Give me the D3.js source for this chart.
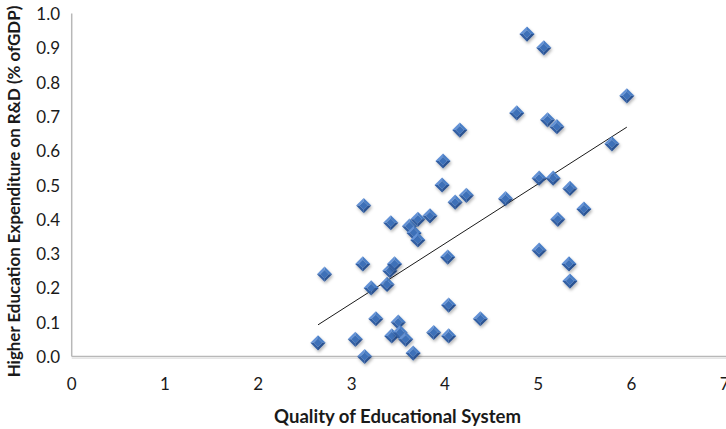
<!DOCTYPE html>
<html>
<head>
<meta charset="utf-8">
<script src="https://cdn.jsdelivr.net/npm/d3@7/dist/d3.min.js"></script>
<style>
  html, body { margin: 0; padding: 0; background: #ffffff; }
  svg { display: block; }
  text { font-family: Lato, "Open Sans", "DejaVu Sans", sans-serif; fill: #1a1a1a; }
</style>
</head>
<body>
<svg id="chart" width="726" height="429"></svg>
<script>
// Quality of educational system (x) vs. higher education R&D spending, % of GDP (y)
const qualityScores = [
  2.64, 2.71, 3.04, 3.12, 3.13, 3.14, 3.21, 3.26, 3.38, 3.41,
  3.42, 3.46, 3.43, 3.50, 3.52, 3.58, 3.62, 3.66, 3.67, 3.71,
  3.71, 3.84, 3.88, 3.97, 3.98, 4.03, 4.04, 4.04, 4.11, 4.16,
  4.23, 4.38, 4.65, 4.77, 4.88, 5.01, 5.01, 5.06, 5.10, 5.16,
  5.20, 5.21, 5.33, 5.34, 5.34, 5.49, 5.79, 5.95
];
const rdExpenditure = [
  0.04, 0.24, 0.05, 0.27, 0.44, 0.00, 0.20, 0.11, 0.21, 0.25,
  0.39, 0.27, 0.06, 0.10, 0.07, 0.05, 0.38, 0.01, 0.36, 0.34,
  0.40, 0.41, 0.07, 0.50, 0.57, 0.29, 0.15, 0.06, 0.45, 0.66,
  0.47, 0.11, 0.46, 0.71, 0.94, 0.52, 0.31, 0.90, 0.69, 0.52,
  0.67, 0.40, 0.27, 0.22, 0.49, 0.43, 0.62, 0.76
];
const xTicks = [0, 1, 2, 3, 4, 5, 6, 7];
const yTicks = [0, 0.1, 0.2, 0.3, 0.4, 0.5, 0.6, 0.7, 0.8, 0.9, 1.0];
const xTitle = "Quality of Educational System";
const yTitle = "Higher Education Expenditure on R&D (% ofGDP)";

const points = qualityScores.map((q, i) => ({ x: q, y: rdExpenditure[i] }));

const svg = d3.select("#chart");
const x = d3.scaleLinear().domain([0, 7]).range([71.7, 724.8]);
const y = d3.scaleLinear().domain([0, 1]).range([356.5, 13.5]);

const defs = svg.append("defs");
const shadow = defs.append("filter").attr("id", "markerShadow")
  .attr("x", "-50%").attr("y", "-50%").attr("width", "200%").attr("height", "200%");
shadow.append("feDropShadow")
  .attr("dx", 1).attr("dy", 2).attr("stdDeviation", 1.4)
  .attr("flood-color", "#000").attr("flood-opacity", 0.3);

// Axis lines (no tick marks)
const axisColor = "#b8b8b8";
svg.append("line")
  .attr("x1", x(0)).attr("x2", x(0))
  .attr("y1", y(1)).attr("y2", y(0))
  .attr("stroke", axisColor).attr("stroke-width", 1.5);
svg.append("line")
  .attr("x1", x(0)).attr("x2", x(7) + 2)
  .attr("y1", y(0)).attr("y2", y(0))
  .attr("stroke", axisColor).attr("stroke-width", 1.5);
svg.append("line")
  .attr("x1", x(0)).attr("x2", x(7) + 2)
  .attr("y1", y(0) + 1.8).attr("y2", y(0) + 1.8)
  .attr("stroke", "#e6e6e6").attr("stroke-width", 1.2);

// Tick labels
const tickSize = 17;
svg.append("g").selectAll("text").data(yTicks).join("text")
  .attr("x", 60).attr("y", d => y(d))
  .attr("text-anchor", "end").attr("dominant-baseline", "central")
  .attr("font-size", tickSize)
  .text(d => d3.format(".1f")(d));
svg.append("g").selectAll("text").data(xTicks).join("text")
  .attr("x", d => x(d)).attr("y", 389.5)
  .attr("text-anchor", "middle")
  .attr("font-size", tickSize)
  .text(d => d);

// Axis titles, sized to their span
function fitText(sel, width) {
  const base = +sel.attr("font-size");
  const w = sel.node().getComputedTextLength();
  sel.attr("font-size", base * width / w);
}
const xt = svg.append("text")
  .attr("x", 397.5).attr("y", 422.5)
  .attr("text-anchor", "middle").attr("font-weight", "bold")
  .attr("font-size", 18).text(xTitle);
fitText(xt, 247);
const yt = svg.append("text")
  .attr("transform", "translate(19.5,191.5) rotate(-90)")
  .attr("text-anchor", "middle").attr("font-weight", "bold")
  .attr("font-size", 16).text(yTitle);
fitText(yt, 372);

// Least-squares trend line across the data range
const xm = d3.mean(points, d => d.x), ym = d3.mean(points, d => d.y);
const slope = d3.sum(points, d => (d.x - xm) * (d.y - ym)) / d3.sum(points, d => (d.x - xm) ** 2);
const intercept = ym - slope * xm;
const [xMin, xMax] = d3.extent(points, d => d.x);
svg.append("line")
  .attr("x1", x(xMin)).attr("y1", y(intercept + slope * xMin))
  .attr("x2", x(xMax)).attr("y2", y(intercept + slope * xMax))
  .attr("stroke", "#1a1a1a").attr("stroke-width", 1);

// Bevelled diamond markers
const r = 7.6, q = 4.2;
const facets = [
  { pts: [[-r, 0], [0, -r], [0, -q], [-q, 0]], fill: "#6392d6" },
  { pts: [[0, -r], [r, 0], [q, 0], [0, -q]], fill: "#4a7ec6" },
  { pts: [[r, 0], [0, r], [0, q], [q, 0]], fill: "#2a5292" },
  { pts: [[0, r], [-r, 0], [-q, 0], [0, q]], fill: "#335fa3" }
];
const marks = svg.append("g").selectAll("g").data(points).join("g")
  .attr("transform", d => `translate(${x(d.x)},${y(d.y)})`)
  .attr("filter", "url(#markerShadow)");
facets.forEach(f => {
  marks.append("polygon")
    .attr("points", f.pts.map(p => p.join(",")).join(" "))
    .attr("fill", f.fill);
});
marks.append("polygon")
  .attr("points", [[0, -q], [q, 0], [0, q], [-q, 0]].map(p => p.join(",")).join(" "))
  .attr("fill", "#3d70b8");
</script>
</body>
</html>
